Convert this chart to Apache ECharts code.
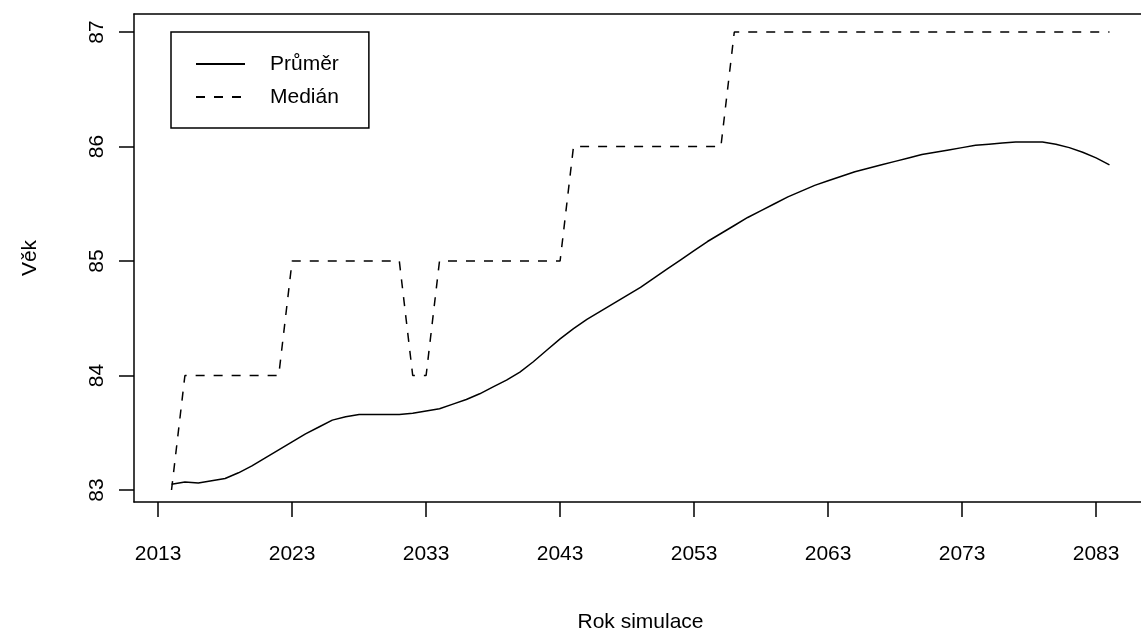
<!DOCTYPE html>
<html>
<head>
<meta charset="utf-8">
<script src="https://cdn.jsdelivr.net/npm/echarts@6/dist/echarts.min.js"></script>
<style>
  html, body { margin: 0; padding: 0; background: #fff; }
  #chart { width: 1141px; height: 630px; }
</style>
</head>
<body>
<div id="chart"></div>
<script>
// Simulation years
const years = [];
for (let y = 2014; y <= 2084; y++) years.push(y);

// Mean age per simulation year
const meanAge = [
  83.05, 83.07, 83.06, 83.08, 83.10, 83.15, 83.21, 83.28, 83.35, 83.42,
  83.49, 83.55, 83.61, 83.64, 83.66, 83.66, 83.66, 83.66, 83.67, 83.69,
  83.71, 83.75, 83.79, 83.84, 83.90, 83.96, 84.03, 84.12, 84.22, 84.32,
  84.41, 84.49, 84.56, 84.63, 84.70, 84.77, 84.85, 84.93, 85.01, 85.09,
  85.17, 85.24, 85.31, 85.38, 85.44, 85.50, 85.56, 85.61, 85.66, 85.70,
  85.74, 85.78, 85.81, 85.84, 85.87, 85.90, 85.93, 85.95, 85.97, 85.99,
  86.01, 86.02, 86.03, 86.04, 86.04, 86.04, 86.02, 85.99, 85.95, 85.90,
  85.84
];

// Median age per simulation year
const medianAge = [
  83, 84, 84, 84, 84, 84, 84, 84, 84, 85,
  85, 85, 85, 85, 85, 85, 85, 85, 84, 84,
  85, 85, 85, 85, 85, 85, 85, 85, 85, 85,
  86, 86, 86, 86, 86, 86, 86, 86, 86, 86,
  86, 86, 87, 87, 87, 87, 87, 87, 87, 87,
  87, 87, 87, 87, 87, 87, 87, 87, 87, 87,
  87, 87, 87, 87, 87, 87, 87, 87, 87, 87,
  87
];

const xTicks = [2013, 2023, 2033, 2043, 2053, 2063, 2073, 2083];
const yTicks = [83, 84, 85, 86, 87];

const seriesNames = ['Průměr', 'Medián'];
const xTitle = 'Rok simulace';
const yTitle = 'Věk';

const FONT = '"Liberation Sans", Arial, Helvetica, sans-serif';
const INK = '#000';
const X_RANGE = [2011.2, 2086.8];
const Y_RANGE = [82.895, 87.157];

const pairs = vals => years.map((y, i) => [y, vals[i]]);
const frameLine = { show: true, onZero: false, lineStyle: { color: INK, width: 1.5 } };

const chart = echarts.init(document.getElementById('chart'), null, { renderer: 'canvas' });

chart.setOption({
  animation: false,
  backgroundColor: '#fff',
  grid: {
    left: 134, top: 14, width: 1013, height: 488,
    containLabel: false, outerBoundsMode: 'none', show: false
  },
  legend: {
    left: 171, top: 32,
    orient: 'vertical',
    data: seriesNames,
    itemWidth: 49, itemHeight: 22, itemGap: 11,
    padding: [21, 30, 20, 24],
    borderColor: INK, borderWidth: 1.5, borderRadius: 0,
    backgroundColor: '#fff',
    itemStyle: { color: 'rgba(0,0,0,0)', borderWidth: 0 },
    textStyle: { fontFamily: FONT, fontSize: 21, color: INK, lineHeight: 22, padding: [0, 0, 0, 20] }
  },
  xAxis: [
    {
      type: 'value', min: X_RANGE[0], max: X_RANGE[1], position: 'bottom',
      name: xTitle, nameLocation: 'middle', nameGap: 110,
      nameTextStyle: { fontFamily: FONT, fontSize: 21, color: INK },
      splitLine: { show: false },
      axisLine: frameLine,
      axisTick: { show: true, inside: false, length: 15, customValues: xTicks, lineStyle: { color: INK, width: 1.5 } },
      axisLabel: { customValues: xTicks, margin: 42, fontFamily: FONT, fontSize: 21, color: INK, formatter: v => String(v) }
    },
    {
      // top edge of the plot frame
      type: 'value', min: X_RANGE[0], max: X_RANGE[1], position: 'top',
      splitLine: { show: false }, axisLine: frameLine,
      axisTick: { show: false }, axisLabel: { show: false }
    }
  ],
  yAxis: {
    type: 'value', min: Y_RANGE[0], max: Y_RANGE[1],
    name: yTitle, nameLocation: 'middle', nameGap: 93, nameRotate: 90,
    nameTextStyle: { fontFamily: FONT, fontSize: 21, color: INK },
    splitLine: { show: false },
    axisLine: frameLine,
    axisTick: { show: true, inside: false, length: 15, customValues: yTicks, lineStyle: { color: INK, width: 1.5 } },
    axisLabel: { customValues: yTicks, rotate: 90, margin: 26, fontFamily: FONT, fontSize: 21, color: INK, formatter: v => String(v) }
  },
  series: [
    {
      name: seriesNames[0], type: 'line', data: pairs(meanAge), xAxisIndex: 0,
      symbol: 'none', smooth: false,
      lineStyle: { color: INK, width: 1.5, type: 'solid' },
      itemStyle: { color: INK }
    },
    {
      name: seriesNames[1], type: 'line', data: pairs(medianAge), xAxisIndex: 0,
      symbol: 'none', smooth: false,
      lineStyle: { color: INK, width: 1.5, type: [9, 9] },
      itemStyle: { color: INK }
    }
  ]
});
</script>
</body>
</html>
